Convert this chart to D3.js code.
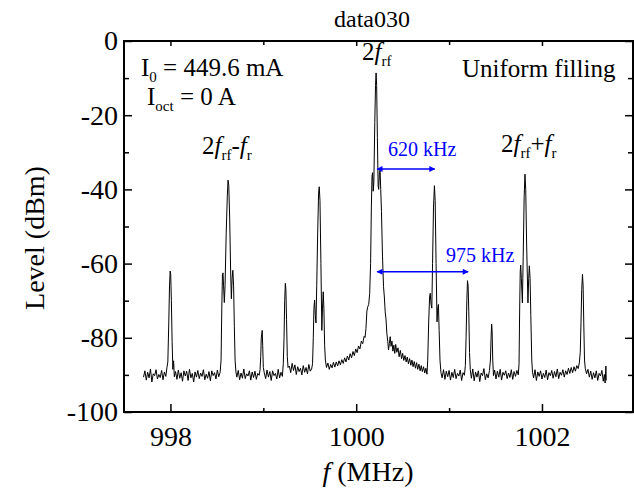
<!DOCTYPE html>
<html>
<head>
<meta charset="utf-8">
<script src="https://cdn.jsdelivr.net/npm/d3@7"></script>
<style>
  body { margin: 0; background: #fff; }
  svg text { font-family: "Liberation Serif", Tinos, "Times New Roman", Times, "DejaVu Serif", serif; }
</style>
</head>
<body>
<div class="spectrum"></div>
<script>
// spectrum trace, [f (MHz), level (dBm)]
var lowSide = [
  [997.710,-90.6],[997.725,-88.9],[997.740,-91.4],[997.755,-89.3],[997.770,-90.8],[997.785,-88.4],[997.800,-91.9],[997.815,-89.7],
  [997.830,-90.2],[997.845,-88.6],[997.860,-91.1],[997.875,-89.9],[997.890,-90.7],[997.905,-88.8],[997.920,-91.3],[997.935,-89.2],
  [997.950,-90.4],[997.962,-88.1],
  [997.972,-86.5],[997.982,-76],[997.990,-66],[997.997,-62],[998.003,-63],[998.010,-70],[998.018,-81],[998.026,-88.5],[998.034,-86.2],[998.042,-90.5],
  [998.055,-89.1],[998.070,-91.2],[998.085,-88.7],[998.100,-90.9],[998.115,-89.4],[998.130,-91.7],[998.145,-88.9],[998.160,-90.3],
  [998.175,-89.0],[998.190,-91.5],[998.205,-88.5],[998.220,-90.8],[998.235,-89.6],[998.250,-91.9],[998.265,-89.2],[998.280,-90.6],
  [998.295,-88.8],[998.310,-91.0],[998.325,-89.5],[998.340,-90.4],[998.355,-88.6],[998.370,-91.3],[998.385,-89.8],[998.400,-90.9],
  [998.415,-89.1],[998.430,-91.6],[998.445,-88.9],[998.460,-90.2],[998.475,-89.4],[998.490,-91.1],[998.505,-88.7],[998.520,-90.5],
  [998.535,-89.3],
  [998.545,-86],[998.553,-72],[998.560,-63],[998.566,-62.5],[998.572,-66],[998.580,-70.5],[998.588,-66],[998.600,-52],[998.612,-42],
  [998.620,-37.5],[998.628,-39],[998.638,-48],[998.648,-62],[998.656,-69.5],[998.664,-64],[998.672,-61.8],[998.680,-66],[998.688,-77],
  [998.696,-86],[998.705,-89.2],
  [998.715,-90.6],[998.730,-88.8],[998.745,-91.3],[998.760,-89.5],[998.775,-90.9],[998.790,-88.4],[998.805,-91.0],[998.820,-89.7],
  [998.835,-90.3],[998.850,-88.9],[998.865,-91.4],[998.880,-89.2],[998.895,-90.7],[998.910,-89.0],[998.925,-91.2],[998.940,-89.6],
  [998.955,-90.1],[998.965,-88.6],
  [998.972,-85],[998.978,-80],[998.983,-79],[998.988,-78],[998.993,-82],[999.000,-88],
  [999.010,-89.4],[999.025,-91.0],[999.040,-88.7],[999.055,-90.6],[999.070,-89.1],[999.085,-91.5],[999.100,-88.9],[999.115,-90.2],
  [999.130,-89.6],[999.145,-91.1],[999.160,-88.5],[999.175,-90.8],[999.190,-89.3],[999.205,-90.4],
  [999.215,-87],[999.223,-80],[999.230,-70],[999.237,-65.3],[999.243,-67],[999.250,-75],[999.258,-85],[999.266,-88],
  [999.280,-87.6],[999.295,-89.4],[999.310,-86.9],[999.325,-88.8],[999.340,-87.3],[999.355,-89.9],[999.370,-87.8],[999.385,-89.1],
  [999.400,-88.2],[999.415,-90.0],[999.430,-87.5],[999.445,-89.3],[999.460,-88.0],[999.475,-89.7],[999.490,-87.2],[999.505,-89.0],
  [999.520,-88.4],
  [999.530,-87],[999.538,-80],[999.545,-72],[999.552,-69.8],[999.560,-74],[999.567,-76],[999.575,-66],[999.585,-52],[999.595,-41],
  [999.602,-39.3],[999.610,-43],[999.620,-60],[999.630,-78],[999.637,-72],[999.645,-67.6],[999.652,-72],[999.660,-82],[999.668,-86]
];

var carrier = [
  [999.680,-88.0],[999.695,-86.8],[999.710,-88.5],[999.725,-87.2],[999.740,-88.1],[999.755,-86.6],[999.770,-87.9],[999.785,-86.5],
  [999.800,-87.6],[999.815,-86.2],[999.830,-87.3],[999.845,-85.9],[999.860,-86.9],[999.875,-85.4],[999.890,-86.5],[999.905,-84.9],
  [999.920,-86.0],[999.935,-84.3],[999.950,-85.4],[999.965,-83.7],[999.980,-84.8],[999.995,-83.0],[1000.010,-84.0],[1000.025,-82.2],
  [1000.040,-83.0],[1000.055,-80.9],[1000.070,-81.6],[1000.085,-79.6],[1000.095,-79.9],[1000.105,-77.5],[1000.115,-72.8],[1000.125,-71.6],
  [1000.135,-71.0],[1000.145,-68],
  [1000.155,-60],[1000.163,-45],[1000.170,-36.5],[1000.176,-35.5],[1000.183,-40.5],[1000.190,-38],[1000.200,-22],[1000.208,-12],
  [1000.214,-8.6],[1000.220,-12],[1000.228,-26],[1000.236,-39],[1000.242,-40],[1000.250,-35.5],[1000.257,-34.8],[1000.264,-40],
  [1000.272,-46],[1000.283,-58],[1000.294,-66.2],[1000.303,-69],[1000.312,-73],[1000.321,-75],[1000.330,-78.8],[1000.340,-81],
  [1000.348,-83.3],[1000.357,-81.5],[1000.366,-79.7],[1000.375,-82.3],[1000.385,-80.9],[1000.395,-83.6],[1000.405,-82.0],[1000.415,-84.2],
  [1000.425,-81.8],[1000.437,-83.9],[1000.450,-82.7],[1000.462,-85.1],[1000.475,-83.4],[1000.488,-85.6],[1000.500,-84.2],[1000.512,-86.1],
  [1000.525,-84.8],[1000.538,-86.5],[1000.550,-85.2],[1000.562,-87.0],[1000.575,-85.6],[1000.588,-87.4],[1000.600,-86.0],[1000.612,-87.8],
  [1000.625,-86.4],[1000.638,-88.2],[1000.650,-86.7],[1000.662,-88.5],[1000.675,-87.1],[1000.688,-88.9],[1000.700,-87.5],[1000.712,-89.1],
  [1000.725,-87.8],[1000.738,-89.5],[1000.750,-88.2],[1000.762,-89.8]
];

var highSide = [
  [1000.770,-86],[1000.780,-76],[1000.790,-69],[1000.797,-68],[1000.806,-71],[1000.814,-72],[1000.822,-60],[1000.832,-45],[1000.842,-39],
  [1000.850,-43],[1000.860,-60],[1000.870,-75.7],[1000.878,-72],[1000.885,-71],[1000.893,-78],[1000.902,-86],[1000.912,-89.3],
  [1000.925,-90.8],[1000.940,-88.6],[1000.955,-91.2],[1000.970,-89.0],[1000.985,-90.5],[1001.000,-88.8],[1001.015,-91.4],[1001.030,-89.3],
  [1001.045,-90.7],[1001.060,-88.5],[1001.075,-91.0],[1001.090,-89.6],[1001.105,-90.3],[1001.120,-88.7],[1001.135,-91.5],[1001.150,-89.4],
  [1001.165,-90.1],
  [1001.175,-87.5],[1001.183,-80],[1001.191,-70],[1001.198,-64.6],[1001.205,-66],[1001.212,-73],[1001.220,-84],[1001.228,-88.6],
  [1001.240,-90.9],[1001.255,-88.4],[1001.270,-91.6],[1001.285,-89.2],[1001.300,-90.6],[1001.315,-88.9],[1001.330,-91.8],[1001.345,-89.5],
  [1001.360,-90.2],[1001.375,-88.3],[1001.390,-91.3],[1001.405,-89.7],[1001.420,-90.8],[1001.435,-88.8],
  [1001.445,-86],[1001.452,-80],[1001.458,-76.3],[1001.463,-78],[1001.470,-86],[1001.478,-90.2],
  [1001.490,-88.7],[1001.505,-91.1],[1001.520,-89.0],[1001.535,-90.6],[1001.550,-88.5],[1001.565,-91.4],[1001.580,-89.3],[1001.595,-90.1],
  [1001.610,-88.9],[1001.625,-91.0],[1001.640,-89.5],[1001.655,-90.7],[1001.670,-88.6],[1001.685,-91.2],[1001.700,-89.1],[1001.715,-90.4],
  [1001.730,-88.8],[1001.745,-90.0],
  [1001.753,-87],[1001.760,-72],[1001.766,-62],[1001.771,-60.4],[1001.778,-64],[1001.789,-70.6],[1001.798,-58],[1001.808,-42],
  [1001.817,-35.9],[1001.825,-40],[1001.835,-55],[1001.849,-70.6],[1001.857,-64],[1001.864,-60.6],[1001.872,-64],[1001.880,-74],
  [1001.890,-86],[1001.898,-89.3],
  [1001.910,-90.8],[1001.925,-88.6],[1001.940,-91.5],[1001.955,-89.2],[1001.970,-90.4],[1001.985,-88.9],[1002.000,-91.1],[1002.015,-89.6],
  [1002.030,-90.7],[1002.045,-88.7],[1002.060,-91.3],[1002.075,-89.4],[1002.090,-90.2],[1002.105,-88.8],[1002.120,-90.9],[1002.135,-89.1],
  [1002.150,-90.5],[1002.165,-88.4],[1002.180,-91.0],[1002.195,-89.3],[1002.210,-90.1],[1002.225,-88.6],[1002.240,-90.6],[1002.255,-88.9],
  [1002.270,-89.9],[1002.285,-88.2],[1002.300,-89.6],[1002.315,-88.0],[1002.330,-89.4],[1002.345,-87.8],[1002.360,-89.0],[1002.375,-87.5],
  [1002.390,-88.3],[1002.402,-86.8],
  [1002.412,-84],[1002.420,-76],[1002.428,-67],[1002.436,-62.9],[1002.443,-66],[1002.450,-76],[1002.458,-86],[1002.466,-88.2],
  [1002.480,-89.7],[1002.495,-88.5],[1002.510,-90.6],[1002.525,-89.0],[1002.540,-91.2],[1002.555,-89.4],[1002.570,-90.8],[1002.585,-88.9],
  [1002.600,-91.5],[1002.615,-89.6],[1002.630,-90.3],[1002.645,-88.8],[1002.660,-91.7],[1002.672,-89.9],[1002.680,-92.2],[1002.688,-87.6],
  [1002.692,-91.5]
];

var xMajor = [998, 1000, 1002];
var xMinor = [999, 1001];
var yMajor = [0, -20, -40, -60, -80, -100];
var yMinor = [-10, -30, -50, -70, -90];

// spacing arrows: [from, to, level, label]
var spacings = [
  [1000.225, 1000.845, -34.5, "620 kHz"],
  [1000.225, 1001.205, -62.2, "975 kHz"]
];

var trace = lowSide.concat(carrier, highSide);

var W = 634, H = 493;
var plot = {left: 124, right: 633, top: 41, bottom: 412};

var svg = d3.select(".spectrum").append("svg")
    .attr("width", W)
    .attr("height", H);

svg.append("rect").attr("width", W).attr("height", H).attr("fill", "#fff");

var x = d3.scaleLinear().domain([997.5, 1002.98]).range([plot.left, plot.right]);
var y = d3.scaleLinear().domain([-100, 0]).range([plot.bottom, plot.top]);

svg.append("defs").append("clipPath").attr("id", "clip")
  .append("rect")
    .attr("x", plot.left).attr("y", plot.top)
    .attr("width", plot.right - plot.left).attr("height", plot.bottom - plot.top);

var line = d3.line()
    .x(function (d) { return x(d[0]); })
    .y(function (d) { return y(d[1]); });

svg.append("path")
    .datum(trace)
    .attr("clip-path", "url(#clip)")
    .attr("fill", "none")
    .attr("stroke", "#000")
    .attr("stroke-width", 1)
    .attr("stroke-linejoin", "round")
    .attr("d", line);

// plain hyphen for negatives, like the original
var plain = function (d) { return String(d); };

// axes: ticks point inward on all four sides
function axisGroup(axis, tx, ty) {
  var g = svg.append("g")
      .attr("transform", "translate(" + tx + "," + ty + ")")
      .call(axis);
  g.attr("font-family", null);
  g.select(".domain").remove();
  g.selectAll(".tick line").attr("stroke-width", 1.5);
  g.selectAll("text").attr("font-size", 28).attr("fill", "#000");
  return g;
}

axisGroup(d3.axisBottom(x).tickValues(xMajor).tickSize(-8).tickPadding(14).tickFormat(plain), 0, plot.bottom);
axisGroup(d3.axisBottom(x).tickValues(xMinor).tickSize(-4).tickFormat(""), 0, plot.bottom);
axisGroup(d3.axisTop(x).tickValues(xMajor).tickSize(-5).tickFormat(""), 0, plot.top);
axisGroup(d3.axisTop(x).tickValues(xMinor).tickSize(-4).tickFormat(""), 0, plot.top);

axisGroup(d3.axisLeft(y).tickValues(yMajor).tickSize(-8).tickPadding(6).tickFormat(plain), plot.left, 0);
axisGroup(d3.axisLeft(y).tickValues(yMinor).tickSize(-5).tickFormat(""), plot.left, 0);
axisGroup(d3.axisRight(y).tickValues(yMajor).tickSize(-8).tickFormat(""), plot.right, 0);
axisGroup(d3.axisRight(y).tickValues(yMinor).tickSize(-5).tickFormat(""), plot.right, 0);

svg.append("rect")
    .attr("x", plot.left).attr("y", plot.top)
    .attr("width", plot.right - plot.left).attr("height", plot.bottom - plot.top)
    .attr("fill", "none")
    .attr("stroke", "#000")
    .attr("stroke-width", 2);

// titles
svg.append("text")
    .attr("x", 372).attr("y", 27)
    .attr("text-anchor", "middle")
    .attr("font-size", 24)
    .text("data030");

svg.append("text")
    .attr("transform", "translate(44,238) rotate(-90)")
    .attr("text-anchor", "middle")
    .attr("font-size", 28)
    .text("Level (dBm)");

var xt = svg.append("text")
    .attr("x", 368).attr("y", 481)
    .attr("text-anchor", "middle")
    .attr("font-size", 28);
xt.append("tspan").attr("font-style", "italic").text("f");
xt.append("tspan").text(" (MHz)");

// text with subscripts: parts = [[text, sub?, italic?], ...]
function label(px, py, size, parts, color) {
  var t = svg.append("text")
      .attr("x", px).attr("y", py)
      .attr("font-size", size)
      .attr("fill", color || "#000");
  var lowered = false;
  parts.forEach(function (p) {
    var s = t.append("tspan").text(p[0]);
    if (p[1] && !lowered) { s.attr("dy", 6).attr("font-size", size * 0.6); lowered = true; }
    else if (p[1]) { s.attr("font-size", size * 0.6); }
    else if (lowered) { s.attr("dy", -6); lowered = false; }
    if (p[2]) s.attr("font-style", "italic");
  });
  return t;
}

label(141, 76, 25, [["I"], ["0", 1], [" = 449.6 mA"]]);
label(147, 105, 25, [["I"], ["oct", 1], [" = 0 A"]]);
label(462, 77, 25, [["Uniform filling"]]);
label(362, 60, 25, [["2"], ["f", 0, 1], ["rf", 1]]);
label(202, 154, 25, [["2"], ["f", 0, 1], ["rf", 1], ["-"], ["f", 0, 1], ["r", 1]]);
label(501, 152, 25, [["2"], ["f", 0, 1], ["rf", 1], ["+"], ["f", 0, 1], ["r", 1]]);

// spacing arrows
svg.select("defs").append("marker")
    .attr("id", "head")
    .attr("viewBox", "0 0 10 10")
    .attr("refX", 9).attr("refY", 5)
    .attr("markerWidth", 8).attr("markerHeight", 6)
    .attr("markerUnits", "userSpaceOnUse")
    .attr("orient", "auto-start-reverse")
  .append("path")
    .attr("d", "M0,0L10,5L0,10z")
    .attr("fill", "#0000ff");

svg.selectAll(".spacing")
  .data(spacings)
  .enter().append("line")
    .attr("class", "spacing")
    .attr("x1", function (d) { return x(d[0]); })
    .attr("x2", function (d) { return x(d[1]); })
    .attr("y1", function (d) { return y(d[2]); })
    .attr("y2", function (d) { return y(d[2]); })
    .attr("stroke", "#0000ff")
    .attr("stroke-width", 1.5)
    .attr("marker-start", "url(#head)")
    .attr("marker-end", "url(#head)");

label(388, 156, 20, [[spacings[0][3]]], "#0000ff");
label(446, 262, 20, [[spacings[1][3]]], "#0000ff");
</script>
</body>
</html>
